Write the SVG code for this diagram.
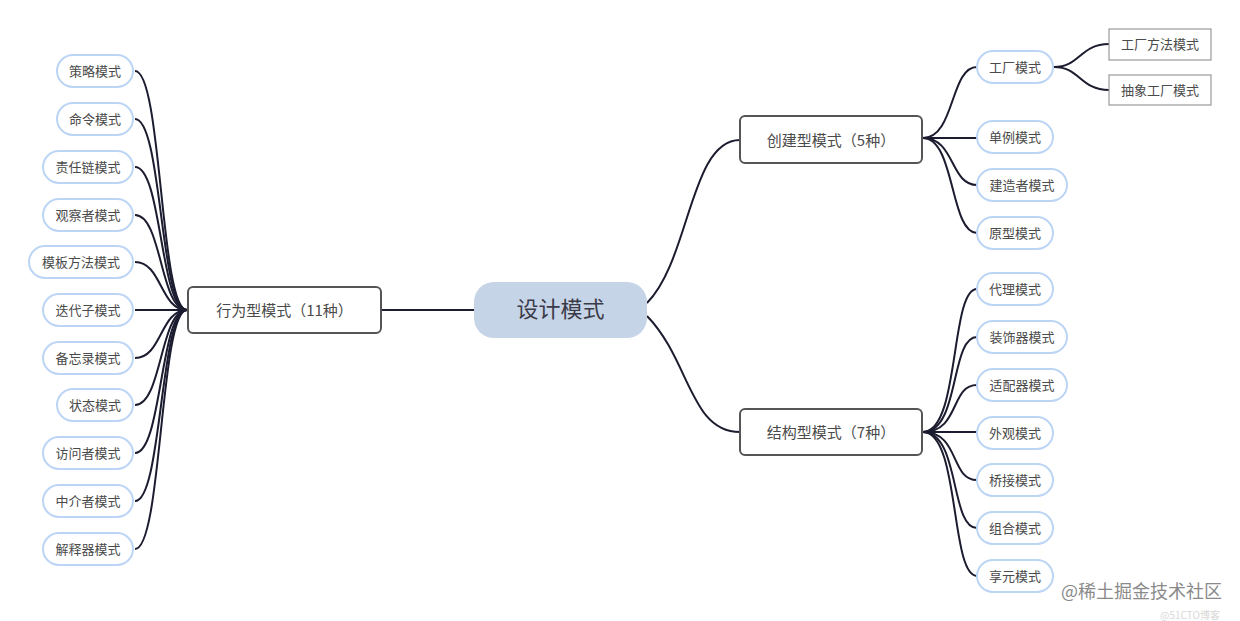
<svg xmlns="http://www.w3.org/2000/svg" width="1240" height="621" viewBox="0 0 1240 621">
<style>
text{font-family:"Microsoft YaHei","Noto Sans CJK SC","Noto Sans",sans-serif;text-anchor:middle;dominant-baseline:central;fill:#4a4a4a}
.pill rect{fill:#fff;stroke:#bcd5f5;stroke-width:2}
.pill text{font-size:13px}
.leaf rect{fill:#fff;stroke:#9a9a9a;stroke-width:1.2}
.leaf text{font-size:13px}
.main rect{fill:#fff;stroke:#555;stroke-width:2}
.main text{font-size:15px}
.conn path{fill:none;stroke:#1c1c30;stroke-width:2}
.wm{font-size:18px;fill:#8a8a8a;text-anchor:start}
.wm2{font-size:10px;fill:#d8d8d8;text-anchor:start}
</style>
<rect width="1240" height="621" fill="#fff"/>
<g class="conn">
<path d="M381,310 H474"/>
<path d="M647,303 C690,260 690,140 740,140"/>
<path d="M647,316 C690,360 690,432 740,432"/>
<path d="M923,138 C955,138 950,67 977,67"/>
<path d="M923,138 H977"/>
<path d="M923,138 C955,138 950,185 977,185"/>
<path d="M923,138 C955,138 950,233 977,233"/>
<path d="M1054,67 C1080,67 1080,44 1109,44"/>
<path d="M1054,67 C1080,67 1080,90 1109,90"/>
<path d="M923,432 C960,432 950,289 977,289"/>
<path d="M923,432 C960,432 950,337 977,337"/>
<path d="M923,432 C960,432 950,385 977,385"/>
<path d="M923,432 H977"/>
<path d="M923,432 C960,432 950,480 977,480"/>
<path d="M923,432 C960,432 950,528 977,528"/>
<path d="M923,432 C960,432 950,576 977,576"/>
<path d="M187,310 C160,310 162,71 135,71"/>
<path d="M187,310 C160,310 162,119 135,119"/>
<path d="M187,310 C160,310 162,167 135,167"/>
<path d="M187,310 C160,310 162,215 135,215"/>
<path d="M187,310 C160,310 162,262 135,262"/>
<path d="M187,310 H135"/>
<path d="M187,310 C160,310 162,358 135,358"/>
<path d="M187,310 C160,310 162,405 135,405"/>
<path d="M187,310 C160,310 162,453 135,453"/>
<path d="M187,310 C160,310 162,501 135,501"/>
<path d="M187,310 C160,310 162,549 135,549"/>
</g>
<g id="root"><rect x="474" y="282" width="173" height="56" rx="20" fill="#c6d4e7"/><text x="560.5" y="307" style="font-size:22px;fill:#3a3a48">设计模式</text></g>
<g id="creational" class="main"><rect x="740" y="116" width="182" height="47" rx="5"/><text x="831" y="139">创建型模式（5种）</text></g>
<g id="structural" class="main"><rect x="740" y="409" width="182" height="46" rx="5"/><text x="831" y="431">结构型模式（7种）</text></g>
<g id="behavioral" class="main"><rect x="188" y="287" width="193" height="46" rx="5"/><text x="284.5" y="309">行为型模式（11种）</text></g>
<g id="factory" class="pill"><rect x="977" y="51" width="76" height="32" rx="16"/><text x="1015" y="66">工厂模式</text></g>
<g id="singleton" class="pill"><rect x="977" y="121" width="76" height="32" rx="16"/><text x="1015" y="136">单例模式</text></g>
<g id="builder" class="pill"><rect x="977" y="169" width="90" height="32" rx="16"/><text x="1022" y="184">建造者模式</text></g>
<g id="prototype" class="pill"><rect x="977" y="217" width="76" height="32" rx="16"/><text x="1015" y="232">原型模式</text></g>
<g id="factory-method" class="leaf"><rect x="1109" y="29" width="102" height="31"/><text x="1160" y="43.5">工厂方法模式</text></g>
<g id="abstract-factory" class="leaf"><rect x="1109" y="75" width="102" height="30"/><text x="1160" y="89">抽象工厂模式</text></g>
<g id="proxy" class="pill"><rect x="977" y="273" width="76" height="32" rx="16"/><text x="1015" y="288">代理模式</text></g>
<g id="decorator" class="pill"><rect x="977" y="321" width="90" height="32" rx="16"/><text x="1022" y="336">装饰器模式</text></g>
<g id="adapter" class="pill"><rect x="977" y="369" width="90" height="32" rx="16"/><text x="1022" y="384">适配器模式</text></g>
<g id="facade" class="pill"><rect x="977" y="417" width="76" height="32" rx="16"/><text x="1015" y="432">外观模式</text></g>
<g id="bridge" class="pill"><rect x="977" y="464" width="76" height="32" rx="16"/><text x="1015" y="479">桥接模式</text></g>
<g id="composite" class="pill"><rect x="977" y="512" width="76" height="32" rx="16"/><text x="1015" y="527">组合模式</text></g>
<g id="flyweight" class="pill"><rect x="977" y="560" width="76" height="32" rx="16"/><text x="1015" y="575">享元模式</text></g>
<g id="strategy" class="pill"><rect x="57" y="55" width="76" height="32" rx="16"/><text x="95" y="70">策略模式</text></g>
<g id="command" class="pill"><rect x="57" y="103" width="76" height="32" rx="16"/><text x="95" y="118">命令模式</text></g>
<g id="chain" class="pill"><rect x="43" y="151" width="90" height="32" rx="16"/><text x="88" y="166">责任链模式</text></g>
<g id="observer" class="pill"><rect x="43" y="199" width="90" height="32" rx="16"/><text x="88" y="214">观察者模式</text></g>
<g id="template" class="pill"><rect x="29" y="246" width="104" height="32" rx="16"/><text x="81" y="261">模板方法模式</text></g>
<g id="iterator" class="pill"><rect x="43" y="294" width="90" height="32" rx="16"/><text x="88" y="309">迭代子模式</text></g>
<g id="memento" class="pill"><rect x="43" y="342" width="90" height="32" rx="16"/><text x="88" y="357">备忘录模式</text></g>
<g id="state" class="pill"><rect x="57" y="389" width="76" height="32" rx="16"/><text x="95" y="404">状态模式</text></g>
<g id="visitor" class="pill"><rect x="43" y="437" width="90" height="32" rx="16"/><text x="88" y="452">访问者模式</text></g>
<g id="mediator" class="pill"><rect x="43" y="485" width="90" height="32" rx="16"/><text x="88" y="500">中介者模式</text></g>
<g id="interpreter" class="pill"><rect x="43" y="533" width="90" height="32" rx="16"/><text x="88" y="548">解释器模式</text></g>
<text class="wm" x="1061" y="590">@稀土掘金技术社区</text>
<text class="wm2" x="1160" y="614">@51CTO博客</text>
</svg>
